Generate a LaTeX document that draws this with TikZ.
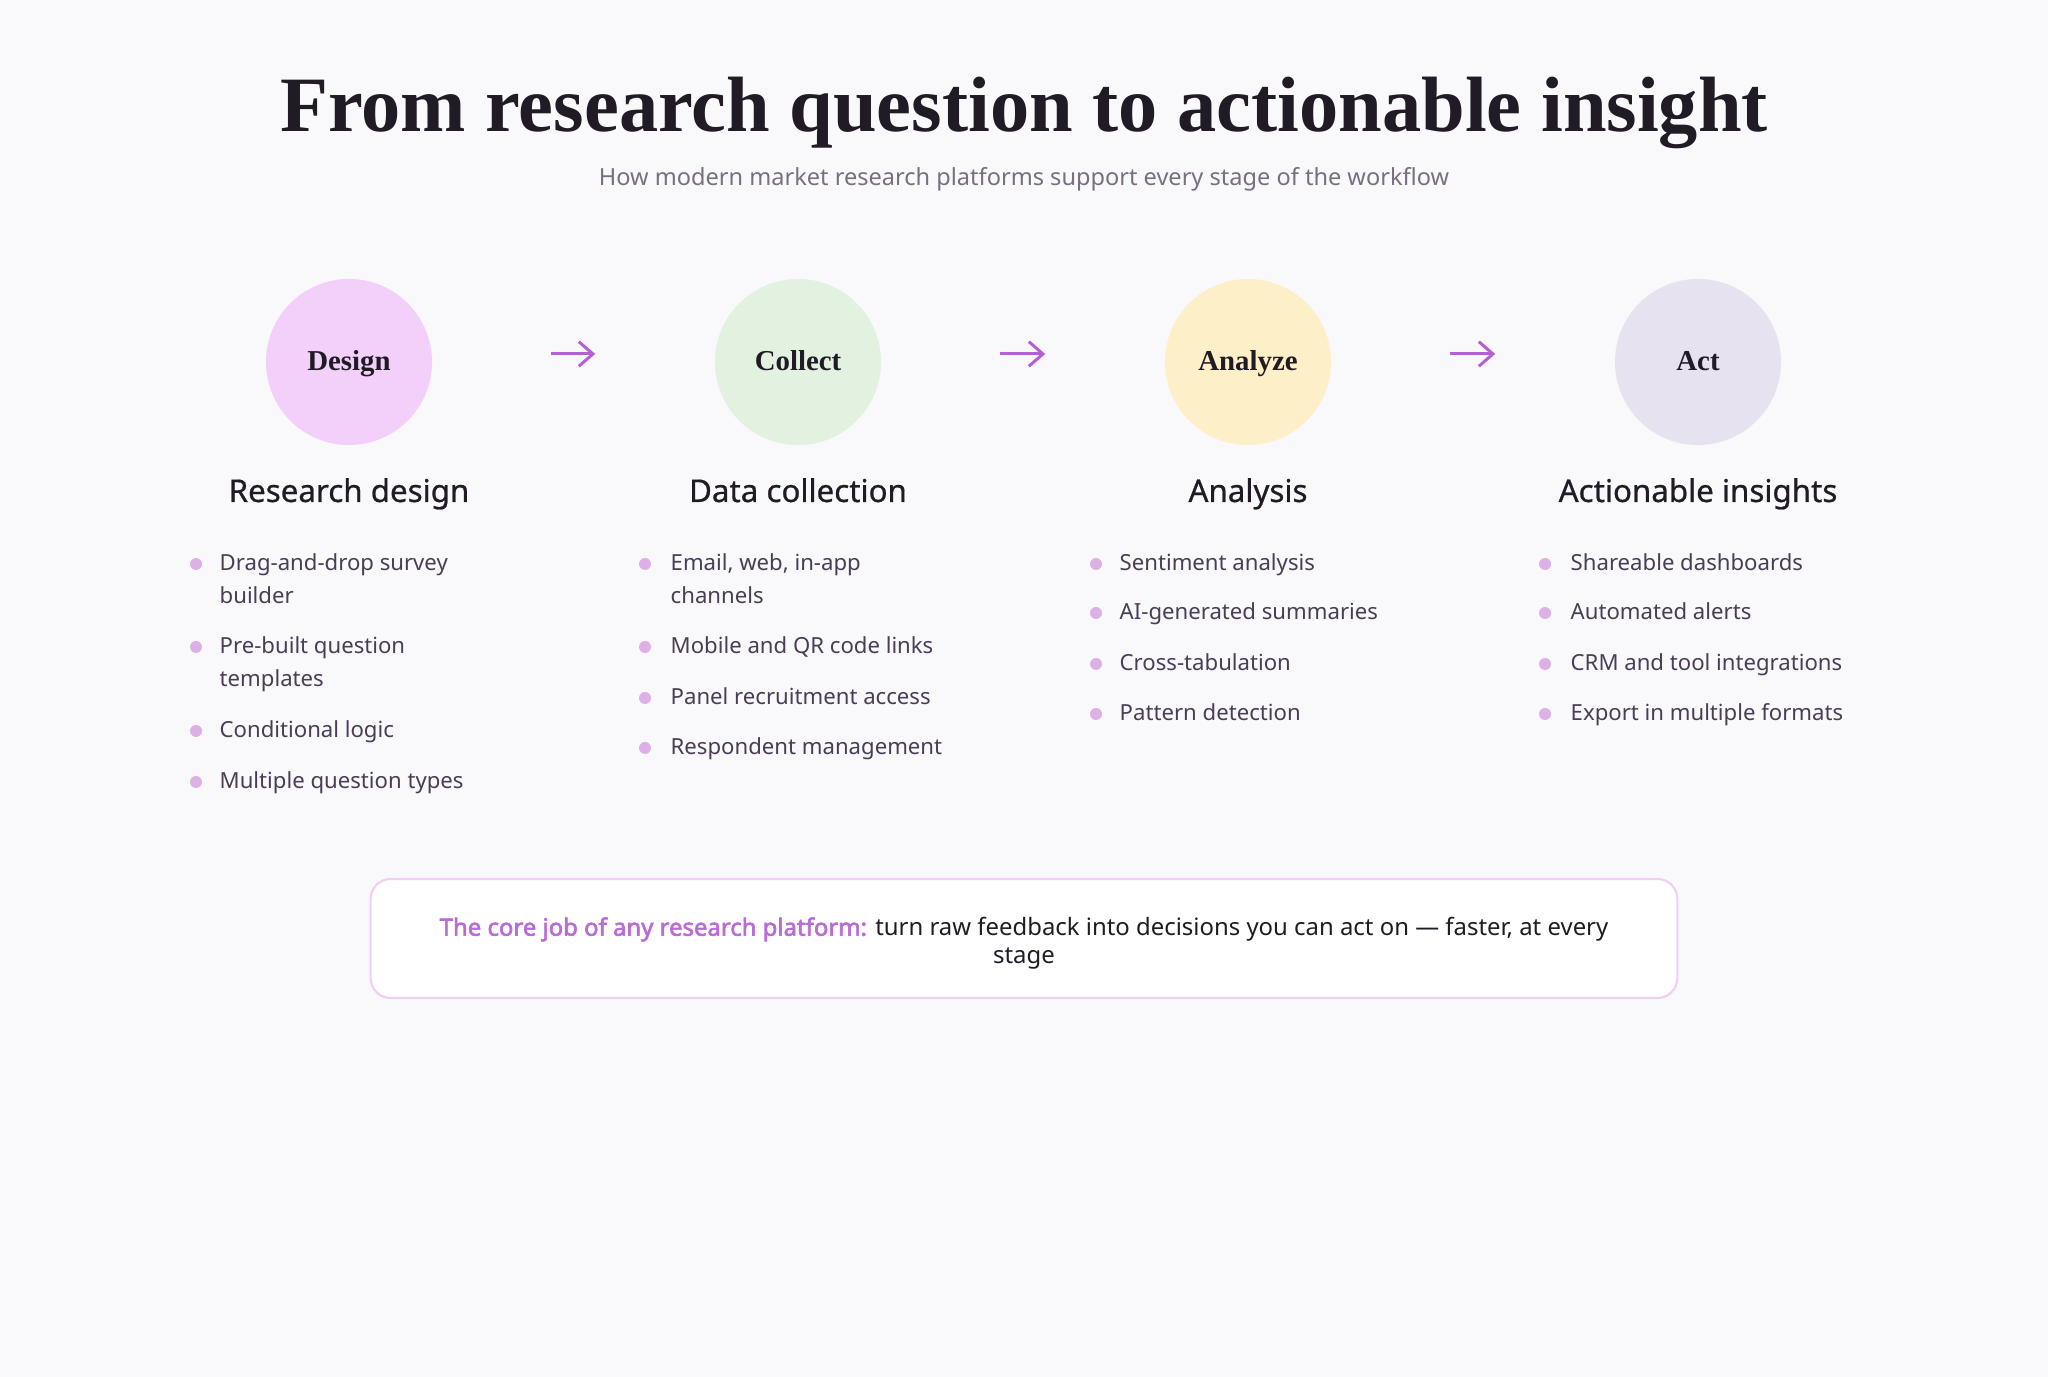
\documentclass[tikz,border=0pt]{standalone}
\usepackage{fontspec}
\setmainfont{Liberation Serif}
\setsansfont{Noto Sans}
\newfontfamily\headfont{Noto Sans}[FakeBold=0.7]
\newfontfamily\hlfont{Noto Sans}[FakeBold=2.4]
\usetikzlibrary{arrows.meta}
\definecolor{bgc}{HTML}{F9F9FB}
\definecolor{dsgfill}{HTML}{F2D0F9}
\definecolor{colfill}{HTML}{E3F1E1}
\definecolor{anafill}{HTML}{FDF0C8}
\definecolor{actfill}{HTML}{E7E2F0}
\definecolor{arrowc}{HTML}{B65FD0}
\definecolor{dotc}{HTML}{DDB0E6}
\definecolor{itemc}{HTML}{4A3D55}
\definecolor{headc}{HTML}{211B26}
\definecolor{subc}{HTML}{7A6E80}
\definecolor{hlc}{HTML}{B96BD6}
\definecolor{boxc}{HTML}{F0CFF5}
\tikzset{
	stage/.style={circle,minimum size=1.66cm,inner sep=0pt,text height=.7em,text depth=.2em,text=headc,font=\fontsize{8.2}{10}\selectfont\bfseries},
	head/.style={anchor=base,text=headc,font=\headfont\fontsize{8.9}{10}\selectfont},
	item/.style={anchor=north west,align=left,inner sep=0pt,text=itemc,font=\sffamily\fontsize{6.3}{9.4}\selectfont},
	flow/.style={arrowc,line width=.85pt,shorten <=1.18cm,shorten >=1.19cm,-{Straight Barb[length=4pt,width=7pt]}},
}
\begin{document}
\begin{tikzpicture}[x=.01cm,y=-.01cm]
	\fill[bgc] (0,0) rectangle (2048,1377);
	\useasboundingbox (0,0) rectangle (2048,1377);
	% title
	\node[anchor=base,text=headc,font=\fontsize{22.3}{24}\selectfont\bfseries] (title) at (1024,132) {From research question to actionable insight};
	\node[anchor=base,text=subc,font=\sffamily\fontsize{6.7}{8}\selectfont] (sub) at (1024,186) {How modern market research platforms support every stage of the workflow};
	% stages
	\node[stage,fill=dsgfill] (dsg) at (349,362) {Design};
	\node[stage,fill=colfill] (col) at (798,362) {Collect};
	\node[stage,fill=anafill] (ana) at (1248,362) {Analyze};
	\node[stage,fill=actfill] (act) at (1698,362) {Act};
	\draw[flow] ([yshift=.08cm]dsg.east)--([yshift=.08cm]col.west);
	\draw[flow] ([yshift=.08cm]col.east)--([yshift=.08cm]ana.west);
	\draw[flow] ([yshift=.08cm]ana.east)--([yshift=.08cm]act.west);
	\node[head] (hdsg) at (349,502) {Research design};
	\node[head] (hcol) at (798,502) {Data collection};
	\node[head] (hana) at (1248,502) {Analysis};
	\node[head] (hact) at (1698,502) {Actionable insights};
	% bullet lists
	\foreach \y/\t [count=\i] in {564/{Drag-and-drop survey\\builder},647/{Pre-built question\\templates},731/Conditional logic,782/Multiple question types}{
		\fill[dotc] (196,\y) circle(6);
		\node[item] (d\i) at (219,\y-17) {\strut\t\strut};}
	\foreach \y/\t [count=\i] in {564/{Email, web, in-app\\channels},647/Mobile and QR code links,698/Panel recruitment access,748/Respondent management}{
		\fill[dotc] (645,\y) circle(6);
		\node[item] (c\i) at (670,\y-17) {\strut\t\strut};}
	\foreach \y/\t [count=\i] in {564/Sentiment analysis,613/AI-generated summaries,664/Cross-tabulation,714/Pattern detection}{
		\fill[dotc] (1096,\y) circle(6);
		\node[item] (a\i) at (1119,\y-17) {\strut\t\strut};}
	\foreach \y/\t [count=\i] in {564/Shareable dashboards,613/Automated alerts,664/CRM and tool integrations,714/Export in multiple formats}{
		\fill[dotc] (1545,\y) circle(6);
		\node[item] (t\i) at (1570,\y-17) {\strut\t\strut};}
	% takeaway box
	\node[draw=boxc,fill=white,line width=.6pt,rounded corners=.2cm,minimum width=13.06cm,minimum height=1.19cm] (core) at (1024,938.5) {};
	\node[align=center,text=headc,font=\sffamily\fontsize{6.8}{8}\selectfont] (coretxt) at (core.center) [yshift=-.05cm]
		{{\color{hlc}\hlfont The core job of any research platform:} turn raw feedback into decisions you can act on — faster, at every\\stage};
\end{tikzpicture}
\end{document}
